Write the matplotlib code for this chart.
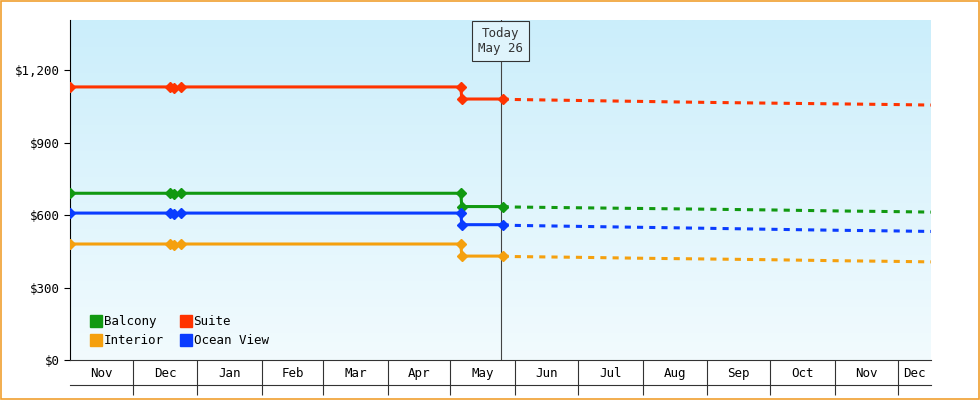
import matplotlib
matplotlib.use("Agg")
import matplotlib.pyplot as plt
import matplotlib.dates as mdates
import numpy as np
from datetime import datetime as D
from matplotlib.colors import LinearSegmentedColormap

plt.rcParams['font.family'] = ['DejaVu Sans Mono']

hist_dates = [D(2023,11,1), D(2023,12,19), D(2023,12,21), D(2023,12,24), D(2024,5,6), D(2024,5,6,12), D(2024,5,26)]
suite_h    = [1130, 1130, 1125, 1130, 1130, 1080, 1080]
balcony_h  = [690, 690, 685, 690, 690, 635, 635]
ocean_h    = [608, 608, 603, 608, 608, 560, 560]
interior_h = [480, 480, 475, 480, 480, 430, 430]

fc_dates = [D(2024,5,26), D(2024,6,1), D(2024,7,1), D(2024,8,1), D(2024,9,1), D(2024,10,1), D(2024,11,1), D(2024,12,1), D(2024,12,17)]
suite_f    = [1080, 1078, 1074, 1070, 1066, 1063, 1060, 1057, 1055]
balcony_f  = [635, 633, 630, 627, 624, 621, 617, 614, 612]
ocean_f    = [560, 557, 553, 549, 545, 541, 537, 534, 532]
interior_f = [430, 428, 425, 421, 418, 415, 411, 408, 406]

series = [("Balcony", "#119911", balcony_h, balcony_f),
          ("Suite", "#ff3300", suite_h, suite_f),
          ("Interior", "#f5a00e", interior_h, interior_f),
          ("Ocean View", "#0a3cff", ocean_h, ocean_f)]

fig = plt.figure(figsize=(9.8, 4.0), dpi=100)
fig.patch.set_facecolor("white")
fig.patches.append(plt.Rectangle((0.001,0.0025),0.998,0.995, transform=fig.transFigure, fill=False, ec="#f0a030", lw=1.2))
ax = fig.add_axes([70/980, 40/400, 861/980, 340/400])
x0, x1 = D(2023,11,1), D(2024,12,17)
ax.set_xlim(x0, x1); ax.set_ylim(0, 1407)
grad = np.linspace(1, 0, 256).reshape(-1, 1)
cm = LinearSegmentedColormap.from_list("g", ["#f2fbfe", "#cbeefb"])
ax.imshow(grad, aspect="auto", cmap=cm, extent=[mdates.date2num(x0), mdates.date2num(x1), 0, 1407], origin="upper", zorder=0)

handles = {}
for name, c, h, f in series:
    handles[name] = ax.plot(hist_dates, h, color=c, lw=2.2, marker="D", ms=5, zorder=3)[0]
    ax.plot(fc_dates, f, color=c, lw=2.2, ls=(0, (2, 2)), zorder=3)

today = D(2024,5,25)
ax.axvline(today, color="#444444", lw=0.8, zorder=2)
ax.text(today, 1320, "Today\nMay 26", ha="center", va="center", fontsize=9, color="#333333",
        bbox=dict(boxstyle="square,pad=0.45", fc="#dff4fc", ec="#333333", lw=0.8), zorder=5)

ax.set_yticks([0, 300, 600, 900, 1200])
ax.set_yticklabels(["$0", "$300", "$600", "$900", "$1,200"], fontsize=9)
ax.tick_params(axis="y", length=4)
for s in ["top", "right"]:
    ax.spines[s].set_visible(False)
ax.spines["bottom"].set_color("#333333")

bounds = [D(2023,11,1)] + [D(2023 + (m > 12), (m - 1) % 12 + 1, 1) for m in range(12, 25)] + [x1]
ax.set_xticks(bounds[1:-1]); ax.set_xticklabels([]); ax.tick_params(axis="x", length=25, color="#333333")
labels = ["Nov","Dec","Jan","Feb","Mar","Apr","May","Jun","Jul","Aug","Sep","Oct","Nov","Dec"]
for a, b, l in zip(bounds[:-1], bounds[1:], labels):
    mid = a + (b - a) / 2
    ax.text(mid, -0.04, l, transform=ax.get_xaxis_transform(), ha="center", va="center", fontsize=9)
ax.plot([0, 1], [-0.074, -0.074], transform=ax.transAxes, color="#333333", lw=0.8, clip_on=False)

order = ["Balcony", "Interior", "Suite", "Ocean View"]  # column-major -> rows: Balcony Suite / Interior Ocean View
leg = ax.legend([handles[n] for n in order], order, loc="lower left", ncol=2, frameon=False, fontsize=9,
                handlelength=0.8, handleheight=0.8, columnspacing=1.4, handletextpad=0.2,
                bbox_to_anchor=(0.01, 0.0), borderpad=0.5)
for line in leg.get_lines():
    line.set_marker("s"); line.set_linestyle(""); line.set_markersize(8)
fig.savefig("out.png", dpi=100)
